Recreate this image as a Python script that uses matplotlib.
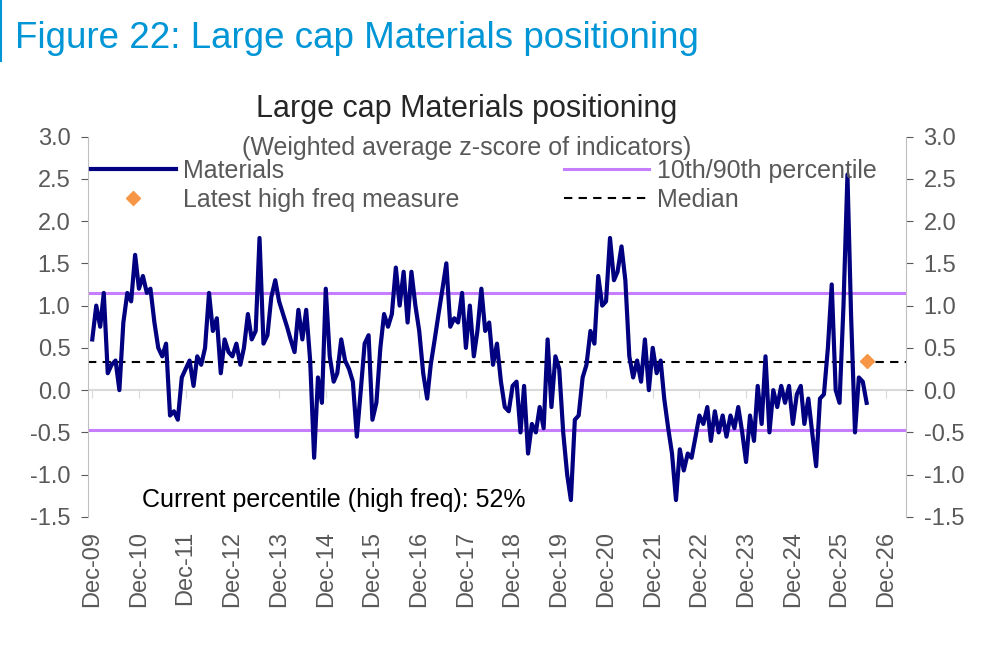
import pandas as pd
import matplotlib.pyplot as plt
from matplotlib.lines import Line2D

plt.rcParams['font.family'] = ['Liberation Sans', 'DejaVu Sans']

# monthly z-score readings, Dec-09 .. Jul-26
materials = [
    0.6, 1.0, 0.75, 1.15, 0.2, 0.3, 0.35, 0.0, 0.8, 1.15, 1.05, 1.6,
    1.2, 1.35, 1.15, 1.2, 0.8, 0.5, 0.4, 0.55, -0.3, -0.25, -0.35, 0.15,
    0.25, 0.35, 0.05, 0.4, 0.3, 0.5, 1.15, 0.7, 0.85, 0.2, 0.6, 0.45,
    0.4, 0.55, 0.3, 0.5, 0.9, 0.6, 0.7, 1.8, 0.55, 0.65, 1.1, 1.3,
    1.05, 0.9, 0.75, 0.6, 0.45, 0.95, 0.6, 0.95, 0.35, -0.8, 0.15, -0.15,
    1.2, 0.4, 0.1, 0.2, 0.6, 0.35, 0.25, 0.1, -0.55, 0.0, 0.55, 0.65,
    -0.35, -0.15, 0.5, 0.9, 0.75, 0.9, 1.45, 1.0, 1.4, 0.8, 1.4, 1.0,
    0.7, 0.2, -0.1, 0.3, 0.6, 0.9, 1.2, 1.5, 0.75, 0.85, 0.8, 1.15,
    0.5, 1.0, 0.4, 0.7, 1.2, 0.7, 0.8, 0.3, 0.55, 0.1, -0.2, -0.25,
    0.05, 0.1, -0.5, 0.05, -0.75, -0.4, -0.5, -0.2, -0.45, 0.6, -0.2, 0.4,
    0.25, -0.5, -1.0, -1.3, -0.35, -0.3, 0.15, 0.3, 0.7, 0.55, 1.35, 1.0,
    1.05, 1.8, 1.3, 1.4, 1.7, 1.3, 0.4, 0.15, 0.35, 0.1, 0.6, 0.0,
    0.5, 0.2, 0.35, -0.1, -0.45, -0.75, -1.3, -0.7, -0.95, -0.75, -0.8, -0.55,
    -0.3, -0.4, -0.2, -0.6, -0.25, -0.5, -0.3, -0.55, -0.3, -0.45, -0.2, -0.5,
    -0.85, -0.3, -0.6, 0.05, -0.4, 0.4, -0.5, 0.0, -0.2, 0.05, -0.15, 0.05,
    -0.4, -0.05, 0.05, -0.4, -0.1, -0.5, -0.9, -0.1, -0.05, 0.5, 1.25, 0.0,
    -0.15, 1.0, 2.55, 0.9, -0.5, 0.15, 0.1, -0.15,
]
dates = pd.date_range('2009-12-01', periods=len(materials), freq='MS')

pct_90 = 1.15
pct_10 = -0.47
median = 0.33
latest_date = pd.Timestamp('2026-07-01')
latest_value = 0.35

tick_dates = pd.date_range('2009-12-01', '2026-12-01', freq='12MS')
tick_labels = [d.strftime('Dec-%y') for d in tick_dates]

grey = '#595959'
fig = plt.figure(figsize=(10.05, 6.47), dpi=100)
ax = fig.add_axes([0.088, 0.201, 0.813, 0.588])

ax.axhline(pct_90, color='#c77dff', lw=2.2)
ax.axhline(pct_10, color='#c77dff', lw=2.2)
ax.axhline(median, color='black', lw=1.5, ls=(0, (4, 3)))
ax.plot(dates, materials, color='#000080', lw=3)
ax.plot([latest_date], [latest_value], marker='D', color='#f79646', ms=7, ls='none')

ax.set_ylim(-1.5, 3.0)
ax.set_xlim(pd.Timestamp('2009-11-01'), pd.Timestamp('2027-05-01'))
ax.set_yticks([-1.5, -1.0, -0.5, 0.0, 0.5, 1.0, 1.5, 2.0, 2.5, 3.0])
ax.yaxis.set_major_formatter(plt.FormatStrFormatter('%.1f'))
ax.tick_params(axis='y', which='both', labelsize=17, colors=grey, labelcolor=grey,
               right=True, labelright=True, length=5, direction='out', pad=8)
ax.set_xticks(tick_dates)
ax.set_xticklabels(tick_labels, rotation=90, fontsize=17, color=grey)
ax.tick_params(axis='x', length=0, pad=10)
for s in ['top', 'bottom']:
    ax.spines[s].set_visible(False)
for s in ['left', 'right']:
    ax.spines[s].set_color('#bfbfbf')

# zero axis with tick marks
ax.axhline(0, color='#d9d9d9', lw=1.5, zorder=0)
sec = ax.secondary_xaxis(1.5 / 4.5)
sec.set_xticks(tick_dates)
sec.set_xticklabels([])
sec.tick_params(length=6, color='#d9d9d9', direction='out')
sec.spines['bottom'].set_visible(False)

handles = [
    Line2D([], [], color='#000080', lw=3),
    Line2D([], [], marker='D', color='#f79646', ls='none', ms=7),
    Line2D([], [], color='#c77dff', lw=2.2),
    Line2D([], [], color='black', lw=1.5, ls=(0, (4, 3))),
]
labels = ['Materials', 'Latest high freq measure', '10th/90th percentile', 'Median']
ax.legend(handles, labels, ncol=2, frameon=False, fontsize=18, labelcolor=grey,
          loc='upper left', bbox_to_anchor=(-0.025, 1.0), columnspacing=4.2,
          handlelength=3.4, handletextpad=0.3, labelspacing=0.2)

ax.text(0.065, 0.025, 'Current percentile (high freq): 52%', transform=ax.transAxes,
        fontsize=18, color='black')

fig.text(0.015, 0.94, 'Figure 22: Large cap Materials positioning', fontsize=26.5,
         color='#0096d6', va='center')
fig.add_artist(Line2D([0.001, 0.001], [0.905, 1.0], color='#0096d6', lw=1.5))
fig.text(0.464, 0.832, 'Large cap Materials positioning', fontsize=22, color='#262626',
         ha='center', va='center')
fig.text(0.464, 0.772, '(Weighted average z-score of indicators)', fontsize=18, color=grey,
         ha='center', va='center')

fig.savefig('out.png', dpi=100)
